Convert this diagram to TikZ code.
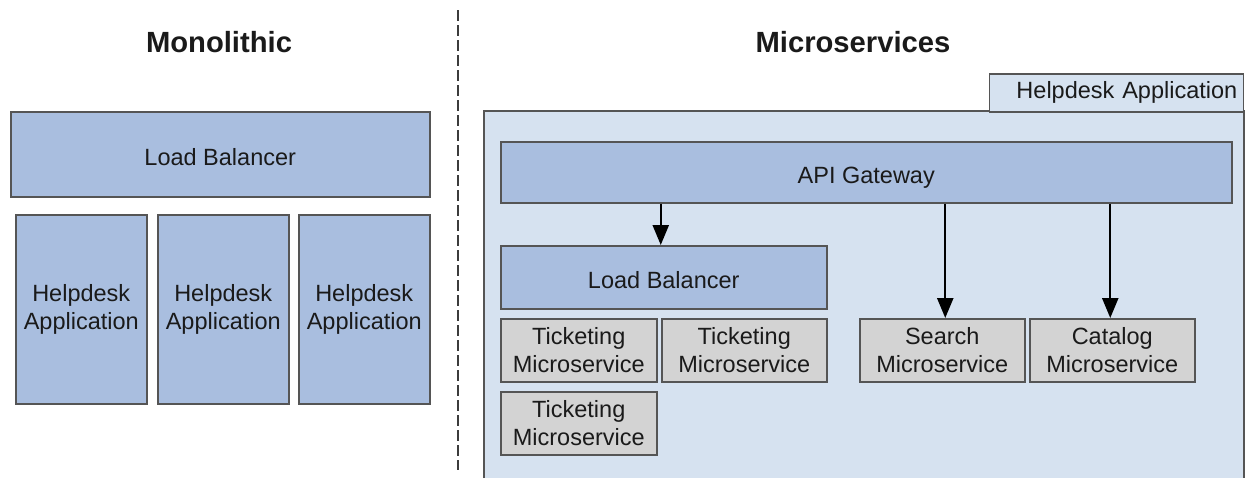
\documentclass[tikz,border=0pt]{standalone}
\usepackage{fontspec}
\setmainfont{Liberation Sans}
\usetikzlibrary{arrows.meta}
\definecolor{boxblue}{HTML}{A9BEDF}
\definecolor{paleblue}{HTML}{D6E2F0}
\definecolor{boxgray}{HTML}{D3D3D3}
\definecolor{edgegray}{HTML}{555555}
\definecolor{txt}{HTML}{1A1A1A}
\begin{document}
\begin{tikzpicture}[x=0.5pt,y=-0.5pt,
  base/.style={draw=edgegray, line width=0.75pt, anchor=north west, inner sep=0pt,
    align=center, text=txt, font=\fontsize{11.75pt}{14pt}\selectfont},
  bluebox/.style={base, fill=boxblue},
  graybox/.style={base, fill=boxgray},
  oneline/.style={text height=11.5pt, text depth=0pt},
  title/.style={text=txt, font=\bfseries\fontsize{14.6pt}{17pt}\selectfont},
  arr/.style={line width=1.2pt, -{Triangle[width=8pt,length=10pt]}},
]
\useasboundingbox (0,0) rectangle (1246,478);
% titles
\node[title] (tmono) at (219,42) {Monolithic};
\node[title] (tmicro) at (853,42) {Microservices};
% divider
\draw[line width=1.4pt, txt!85, dash pattern=on 5.5pt off 2pt] (458,10) -- (458,470);
% monolithic
\node[bluebox, oneline, minimum width=209.5pt, minimum height=42.5pt] (mlb) at (10,111) {Load Balancer};
\node[bluebox, minimum width=65.5pt, minimum height=94.5pt] (app1) at (15,214) {Helpdesk\\Application};
\node[bluebox, minimum width=65.5pt, minimum height=94.5pt] (app2) at (157,214) {Helpdesk\\Application};
\node[bluebox, minimum width=65.5pt, minimum height=94.5pt] (app3) at (298,214) {Helpdesk\\Application};
% microservices container
\fill[paleblue] (484,111) rectangle (1244,478);
\draw[edgegray, line width=0.75pt] (484,478) -- (484,111) -- (1244,111) -- (1244,478);
\node[base, fill=paleblue, anchor=north east, minimum width=127pt, minimum height=19pt,
  inner xsep=3pt, text width=121pt, align=right] (tab) at (1244,73) {Helpdesk Application};
% inner components
\node[bluebox, oneline, minimum width=365.5pt, minimum height=30.5pt] (api) at (500,141) {API Gateway};
\node[bluebox, oneline, minimum width=163pt, minimum height=31.5pt] (lb) at (500,245) {Load Balancer};
\node[graybox, minimum width=78pt, minimum height=31.5pt] (t1) at (500,318) {Ticketing\\Microservice};
\node[graybox, minimum width=82.5pt, minimum height=31.5pt] (t2) at (661,318) {Ticketing\\Microservice};
\node[graybox, minimum width=78pt, minimum height=31.5pt] (t3) at (500,391) {Ticketing\\Microservice};
\node[graybox, minimum width=82.5pt, minimum height=31.5pt] (search) at (859,318) {Search\\Microservice};
\node[graybox, minimum width=82.5pt, minimum height=31.5pt] (catalog) at (1029,318) {Catalog\\Microservice};
% arrows
\draw[arr] ([xshift=-1.5pt]lb.north |- api.south) -- ([xshift=-1.5pt]lb.north);
\draw[arr] ([xshift=1.5pt]search.north |- api.south) -- ([xshift=1.5pt]search.north);
\draw[arr] ([xshift=-1pt]catalog.north |- api.south) -- ([xshift=-1pt]catalog.north);
\end{tikzpicture}
\end{document}
